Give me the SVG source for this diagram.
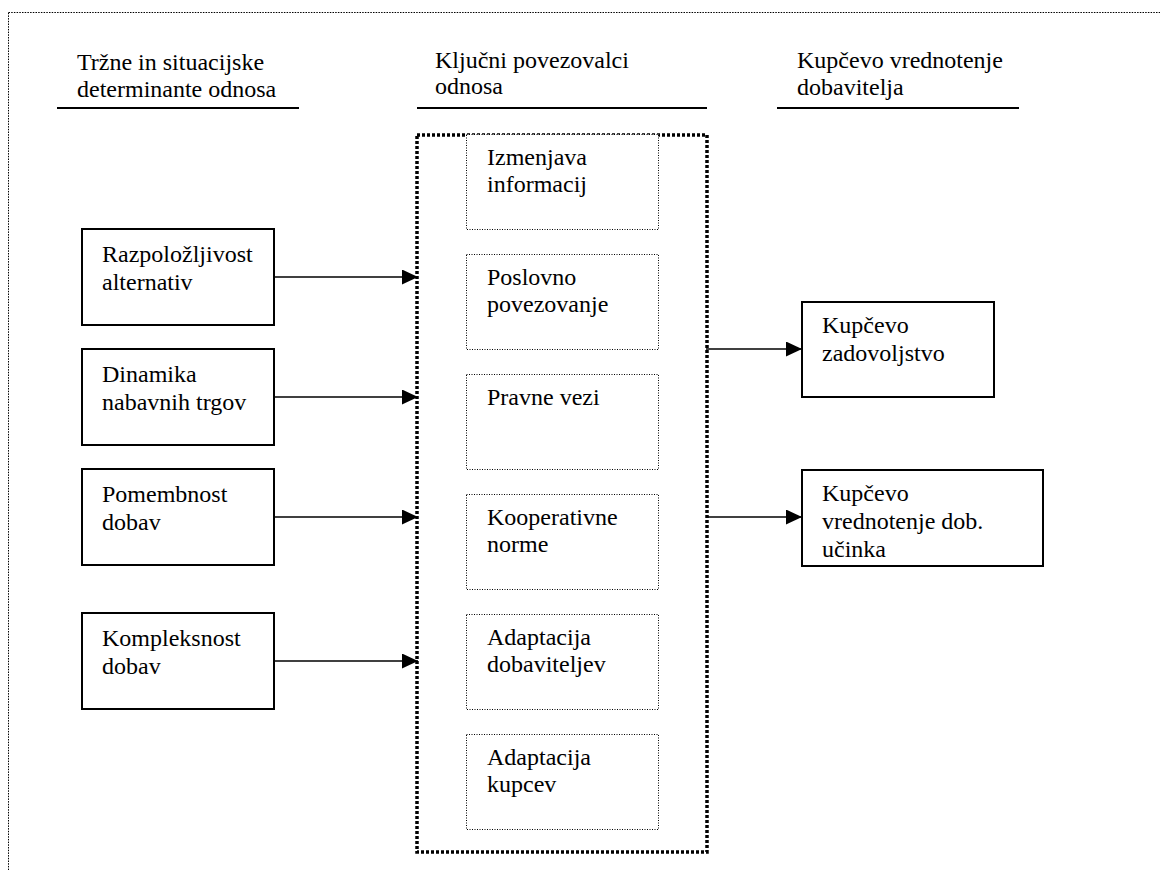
<svg xmlns="http://www.w3.org/2000/svg" width="1160" height="870" viewBox="0 0 1160 870">
<defs>
<style>
.t{font-family:'Liberation Serif', 'Times New Roman', Times, serif;font-size:24px;fill:#000}
.box{fill:#fff;stroke:#000;stroke-width:2}
.ibox{fill:#fff;stroke:#000;stroke-width:1;stroke-dasharray:1 1.5}
.ul{stroke:#000;stroke-width:2}
.conn{stroke:#000;stroke-width:1.6;fill:none;marker-end:url(#ah)}
</style>
<marker id="ah" markerUnits="userSpaceOnUse" markerWidth="16" markerHeight="15" refX="16" refY="7.5" orient="auto">
<path d="M0,0 L16,7.5 L0,15 Z" fill="#000"/>
</marker>
</defs>
<rect width="1160" height="870" fill="#fff"/>
<rect x="8.5" y="12.5" width="1200" height="1000" fill="none" stroke="#000" stroke-width="1" stroke-dasharray="1.5 1.2"/>

<g class="t" font-family="Liberation Serif, serif" font-size="24">
<g id="headers">
<text x="77" y="70">Tržne in situacijske</text>
<text x="77" y="97">determinante odnosa</text>
<line class="ul" x1="57" y1="108" x2="299" y2="108"/>
<text x="435" y="68">Ključni povezovalci</text>
<text x="435" y="94">odnosa</text>
<line class="ul" x1="417" y1="108" x2="707" y2="108"/>
<text x="797" y="68">Kupčevo vrednotenje</text>
<text x="797" y="95">dobavitelja</text>
<line class="ul" x1="777" y1="108" x2="1019" y2="108"/>
</g>

<g id="central">
<rect x="417" y="135" width="290" height="717" fill="none" stroke="#000" stroke-width="3.5" stroke-dasharray="3 2"/>
</g>

<g id="inner1"><rect class="ibox" x="466.5" y="134.5" width="192" height="95"/><text x="487" y="165">Izmenjava</text><text x="487" y="192">informacij</text></g>
<g id="inner2"><rect class="ibox" x="466.5" y="254.5" width="192" height="95"/><text x="487" y="285">Poslovno</text><text x="487" y="312">povezovanje</text></g>
<g id="inner3"><rect class="ibox" x="466.5" y="374.5" width="192" height="95"/><text x="487" y="405">Pravne vezi</text></g>
<g id="inner4"><rect class="ibox" x="466.5" y="494.5" width="192" height="95"/><text x="487" y="525">Kooperativne</text><text x="487" y="552">norme</text></g>
<g id="inner5"><rect class="ibox" x="466.5" y="614.5" width="192" height="95"/><text x="487" y="645">Adaptacija</text><text x="487" y="672">dobaviteljev</text></g>
<g id="inner6"><rect class="ibox" x="466.5" y="734.5" width="192" height="95"/><text x="487" y="765">Adaptacija</text><text x="487" y="792">kupcev</text></g>

<g id="left1"><rect class="box" x="82" y="229" width="192" height="96"/><text x="102" y="262">Razpoložljivost</text><text x="102" y="290">alternativ</text></g>
<g id="left2"><rect class="box" x="82" y="349" width="192" height="96"/><text x="102" y="382">Dinamika</text><text x="102" y="410">nabavnih trgov</text></g>
<g id="left3"><rect class="box" x="82" y="469" width="192" height="96"/><text x="102" y="502">Pomembnost</text><text x="102" y="530">dobav</text></g>
<g id="left4"><rect class="box" x="82" y="613" width="192" height="96"/><text x="102" y="646">Kompleksnost</text><text x="102" y="674">dobav</text></g>

<g id="right1"><rect class="box" x="802" y="302" width="192" height="95"/><text x="822" y="333">Kupčevo</text><text x="822" y="361">zadovoljstvo</text></g>
<g id="right2"><rect class="box" x="802" y="470" width="241" height="96"/><text x="822" y="501">Kupčevo</text><text x="822" y="529">vrednotenje dob.</text><text x="822" y="557">učinka</text></g>
</g>

<g id="connectors">
<line class="conn" x1="274" y1="277" x2="418" y2="277"/>
<line class="conn" x1="274" y1="397" x2="418" y2="397"/>
<line class="conn" x1="274" y1="517" x2="418" y2="517"/>
<line class="conn" x1="274" y1="661" x2="418" y2="661"/>
<line class="conn" x1="706" y1="349" x2="802" y2="349"/>
<line class="conn" x1="706" y1="517" x2="802" y2="517"/>
</g>
</svg>
